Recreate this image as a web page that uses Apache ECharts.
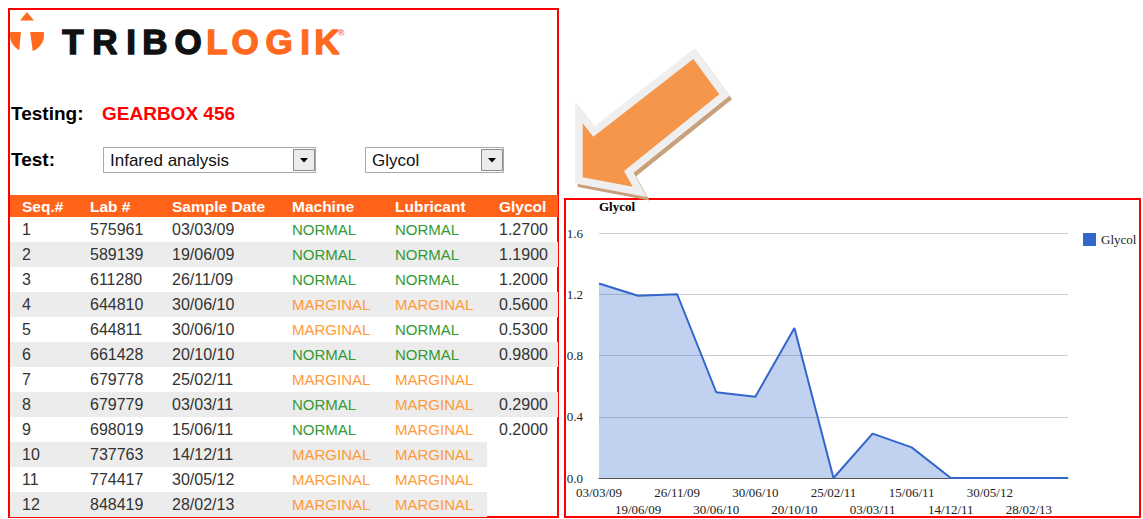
<!DOCTYPE html>
<html>
<head>
<meta charset="utf-8">
<script src="https://cdn.jsdelivr.net/npm/echarts@6/dist/echarts.min.js"></script>
<style>
html,body{margin:0;padding:0;background:#fff;}
#main{width:1143px;height:519px;}
</style>
</head>
<body>
<div id="main"></div>
<script>
// ---------- data ----------
const seqNums = ['1','2','3','4','5','6','7','8','9','10','11','12'];
const labNums = ['575961','589139','611280','644810','644811','661428','679778','679779','698019','737763','774417','848419'];
const sampleDates = ['03/03/09','19/06/09','26/11/09','30/06/10','30/06/10','20/10/10','25/02/11','03/03/11','15/06/11','14/12/11','30/05/12','28/02/13'];
const machineStatus = ['NORMAL','NORMAL','NORMAL','MARGINAL','MARGINAL','NORMAL','MARGINAL','NORMAL','NORMAL','MARGINAL','MARGINAL','MARGINAL'];
const lubricantStatus = ['NORMAL','NORMAL','NORMAL','MARGINAL','NORMAL','NORMAL','MARGINAL','MARGINAL','MARGINAL','MARGINAL','MARGINAL','MARGINAL'];
const glycolValues = [1.27, 1.19, 1.20, 0.56, 0.53, 0.98, null, 0.29, 0.20, null, null, null];
const headers = ['Seq.#','Lab #','Sample Date','Machine','Lubricant','Glycol'];
const yTicks = {min: 0, max: 1.6, interval: 0.4};

// ---------- layout helpers ----------
const SANS = '"Liberation Sans", Arial, sans-serif';
const SERIF = '"Liberation Serif", "Times New Roman", serif';
const G = [];
function rect(x, y, w, h, style) { G.push({type: 'rect', shape: {x, y, width: w, height: h}, style}); }
function poly(points, style) { G.push({type: 'polygon', shape: {points}, style}); }
function txt(s, x, y, font, fill, align, extra) {
  G.push({type: 'text', style: Object.assign({text: s, x, y, font, fill,
    textAlign: align || 'left', align: align || 'left', textVerticalAlign: 'middle', verticalAlign: 'middle'}, extra || {})});
}

// panel frames
rect(9, 9, 549, 508, {fill: 'none', stroke: '#ff0000', lineWidth: 2});
rect(565, 199, 575, 318, {fill: 'none', stroke: '#ff0000', lineWidth: 2});

// logo icon
const ORANGE = '#ff6a1f';
G.push({type: 'circle', shape: {cx: 27, cy: 35, r: 17}, style: {fill: ORANGE}});
rect(10, 12, 40, 20, {fill: '#fff'});
poly([[21, 31], [30, 31], [33, 53], [19, 53]], {fill: '#fff'});
poly([[27, 12], [34, 20.5], [20, 20.5]], {fill: ORANGE});

// logo wordmark
const logoLetters = ['T','R','I','B','O','L','O','G','I','K'];
const logoCenters = [73, 105, 131, 155, 188, 217, 245, 279, 305, 327];
logoLetters.forEach((c, i) => {
  const col = i < 5 ? '#111' : ORANGE;
  txt(c, logoCenters[i], 41, 'bold 35px ' + SANS, col, 'center', {stroke: col, lineWidth: 1.4});
});
txt('®', 341, 33, 'bold 9px ' + SANS, ORANGE, 'center');

// testing line
txt('Testing:', 11, 113, 'bold 19px ' + SANS, '#000');
txt('GEARBOX 456', 102, 113, 'bold 19px ' + SANS, '#ff0000');
txt('Test:', 11, 159, 'bold 19px ' + SANS, '#000');

// select boxes
function selectBox(x, w, label) {
  rect(x + 0.5, 147.5, w, 25, {fill: '#fff', stroke: '#a9a9a9', lineWidth: 1});
  const bx = x + w - 22;
  rect(bx + 0.5, 149.5, 21, 21, {fill: '#ececec', stroke: '#8c8c8c', lineWidth: 1});
  poly([[bx + 7, 158], [bx + 15, 158], [bx + 11, 162.5]], {fill: '#000'});
  txt(label, x + 7, 160, '17px ' + SANS, '#111');
}
selectBox(103, 212, 'Infared analysis');
selectBox(365, 138, 'Glycol');

// table
const colX = [22, 90, 172, 292, 395, 499];
rect(10, 195, 548, 22, {fill: '#ff6319'});
headers.forEach((h, i) => txt(h, colX[i], 206, 'bold 15.5px ' + SANS, '#fff'));
const statusColor = s => s === 'NORMAL' ? '#349a34' : '#ff9a3a';
seqNums.forEach((s, r) => {
  const y0 = 217 + r * 25;
  const hasG = glycolValues[r] !== null;
  if (r % 2 === 1) rect(10, y0, hasG ? 548 : 477, 25, {fill: '#ececec'});
  const cy = y0 + 12.5;
  txt(s, colX[0], cy, '16px ' + SANS, '#333');
  txt(labNums[r], colX[1], cy, '16px ' + SANS, '#333');
  txt(sampleDates[r], colX[2], cy, '16px ' + SANS, '#333');
  txt(machineStatus[r], colX[3], cy, '15px ' + SANS, statusColor(machineStatus[r]));
  txt(lubricantStatus[r], colX[4], cy, '15px ' + SANS, statusColor(lubricantStatus[r]));
  if (hasG) txt(glycolValues[r].toFixed(4), colX[5], cy, '16px ' + SANS, '#333');
});

// arrow
const arrowPts = [[693.3, 59], [719.3, 94.3], [624, 171], [632.7, 186.7], [582.7, 177.3], [582.7, 123.3], [593.3, 136.7]];
poly(arrowPts.map(p => [p[0] + 2.5, p[1] + 3.5]), {fill: '#c8a07c', stroke: '#c8a07c', lineWidth: 15, lineJoin: 'miter'});
poly(arrowPts, {fill: '#efefef', stroke: '#efefef', lineWidth: 15, lineJoin: 'miter'});
poly(arrowPts, {fill: '#f5964a'});

// ---------- chart ----------
const chartData = glycolValues.map((v, i) => [i, v === null ? 0 : v]);
// chart domain runs one step past the last sample (flat continuation)
chartData.push([sampleDates.length, chartData[chartData.length - 1][1]]);

const labelFont = {fontFamily: SERIF, fontSize: 13, color: '#222'};
function dateAxis(parity, margin, showLine) {
  return {
    type: 'value', min: 0, max: sampleDates.length, interval: 1, position: 'bottom',
    axisLine: {show: showLine, lineStyle: {color: '#555', width: 1}},
    axisTick: {show: false}, splitLine: {show: false},
    axisLabel: Object.assign({}, labelFont, {
      margin, hideOverlap: false, showMinLabel: true, showMaxLabel: true,
      formatter: v => {
        const i = Math.round(v);
        return (i < sampleDates.length && i % 2 === parity) ? sampleDates[i] : '';
      }
    })
  };
}

const chart = echarts.init(document.getElementById('main'), null, {renderer: 'svg'});
chart.setOption({
  animation: false,
  title: {text: 'Glycol', left: 599, top: 200, padding: 0,
    textStyle: {fontFamily: SERIF, fontSize: 13, fontWeight: 'bold', color: '#000'}},
  legend: {data: ['Glycol'], left: 1083, top: 233, padding: 0, icon: 'rect', itemWidth: 13, itemHeight: 13, itemGap: 5,
    textStyle: {fontFamily: SERIF, fontSize: 13, color: '#222'}},
  grid: {left: 599, right: 75, top: 233, bottom: 41, outerBoundsMode: 'none'},
  xAxis: [dateAxis(0, 8, true), dateAxis(1, 25, false)],
  yAxis: {
    type: 'value', min: yTicks.min, max: yTicks.max, interval: yTicks.interval,
    axisLine: {show: false}, axisTick: {show: false},
    splitLine: {lineStyle: {color: '#cccccc', width: 1}},
    axisLabel: Object.assign({}, labelFont, {margin: 16, formatter: v => v.toFixed(1)})
  },
  series: [{
    name: 'Glycol', type: 'line', data: chartData, symbol: 'none', xAxisIndex: 0,
    itemStyle: {color: '#3366cc'},
    lineStyle: {color: '#3366cc', width: 2},
    areaStyle: {color: '#3366cc', opacity: 0.3}
  }],
  graphic: {elements: G}
});
</script>
</body>
</html>
